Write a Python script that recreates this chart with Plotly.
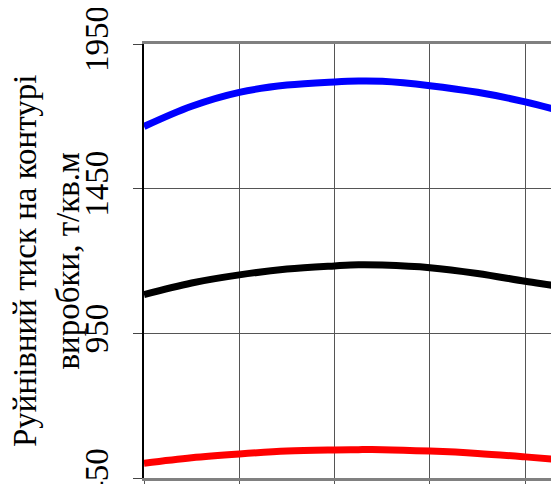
import plotly.graph_objects as go

# x positions (grid units; axis labels are outside the visible crop)
x_vals = [0, 0.5, 1, 1.5, 2, 2.25, 2.5, 3, 3.5, 4, 4.36, 4.6]
blue_vals = [1665, 1735, 1783, 1808, 1819, 1822, 1821, 1806, 1783, 1750, 1719, 1695]
black_vals = [1084, 1124, 1152, 1172, 1183, 1187, 1186, 1177, 1157, 1130, 1112, 1098]
red_vals = [501, 520, 533, 543, 547, 548, 548, 543, 535, 523, 513, 506]

y_ticks = [450, 950, 1450, 1950]
x_ticks = [0, 1, 2, 3, 4]
y_title = "Руйнівний тиск на контурі<br>виробки, т/кв.м"

FONT = "Liberation Serif, Times New Roman, serif"

# page body has an 8px margin; compensate so the plot sits where the reference has it
fig = go.Figure()
for vals, col in [(blue_vals, "#0000ff"), (black_vals, "#000000"), (red_vals, "#ff0000")]:
    fig.add_trace(go.Scatter(x=x_vals, y=vals, mode="lines",
                             line=dict(color=col, width=7, shape="spline", smoothing=1.0),
                             showlegend=False, hoverinfo="skip", cliponaxis=True))

W, H = 559, 484
L, T, B, R = 136, 36, 14, 0
plot_w = W - L - R

fig.update_layout(
    width=W, height=H,
    margin=dict(l=L, r=R, t=T, b=B, autoexpand=False),
    paper_bgcolor="white", plot_bgcolor="white",
    font=dict(family=FONT, size=33, color="black"),
    xaxis=dict(range=[0, plot_w / 95.3], tickvals=x_ticks, showticklabels=False,
               showgrid=True, gridcolor="#555555", gridwidth=1,
               showline=True, linecolor="#808080", linewidth=2.5, mirror=True,
               ticks="outside", ticklen=7, tickcolor="#555555", tickwidth=1,
               zeroline=False, automargin=False),
    yaxis=dict(range=[450, 1950], tickvals=y_ticks, ticktext=[str(v) for v in y_ticks],
               tickangle=-90, tickfont=dict(family=FONT, size=33, color="black"),
               showgrid=True, gridcolor="#555555", gridwidth=1,
               showline=True, linecolor="black", linewidth=2,
               ticks="outside", ticklen=9, tickcolor="#444444", tickwidth=1,
               ticklabelstandoff=12, ticklabeloverflow="allow",
               zeroline=False, automargin=False),
    annotations=[dict(text=y_title, xref="paper", yref="paper",
                      x=(46 - 8 - L) / plot_w, y=0.5, xanchor="center", yanchor="middle",
                      textangle=-90, showarrow=False,
                      font=dict(family=FONT, size=33, color="black"))],
)

fig.write_html("out.html")
